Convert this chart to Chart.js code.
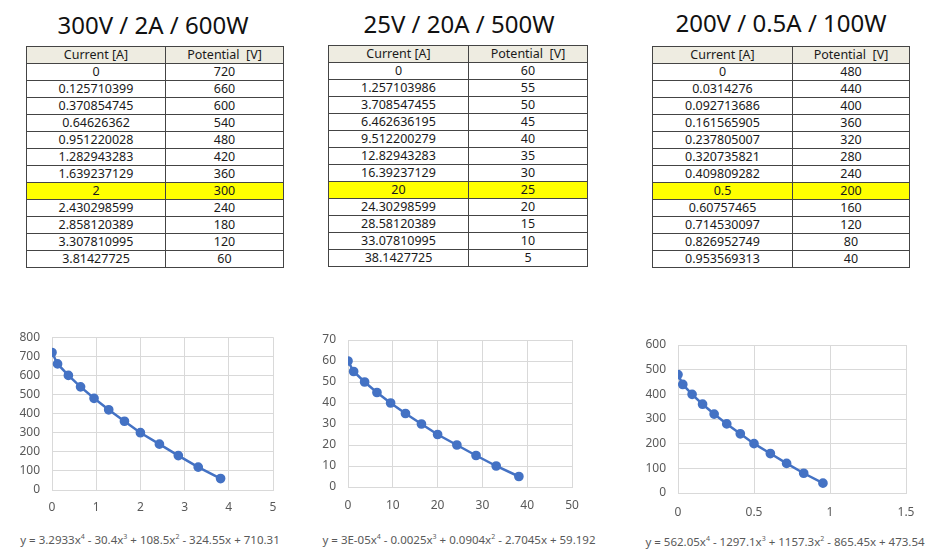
<!DOCTYPE html>
<html>
<head>
<meta charset="utf-8">
<script src="https://cdn.jsdelivr.net/npm/chart.js@4.4.1/dist/chart.umd.min.js"></script>
<style>
  body { margin:0; padding:0; background:#fff; font-family:"Noto Sans", "Open Sans", sans-serif; }
  .title { position:absolute; font-size:24px; color:#111; white-space:nowrap; line-height:24px; text-align:center; }
  table.dt { position:absolute; border-collapse:collapse; font-size:12.5px; color:#1a1a1a; }
  table.dt td, table.dt th { border:1px solid #444; padding:0; height:16px; line-height:16px; text-align:center; font-weight:normal; white-space:nowrap; }
  table.dt th { background:#eeece1; }
  table.dt tr.hl td { background:#ffff00; }
  .eq { position:absolute; font-size:11.5px; color:#595959; white-space:nowrap; line-height:14px; text-align:center; }
  .eq sup { font-size:7px; vertical-align:5px; line-height:0; }
  .cv { position:absolute; z-index:10; }
</style>
</head>
<body>
<script>
// ---- Data ----
const titles = ["300V / 2A / 600W", "25V / 20A / 500W", "200V / 0.5A / 100W"];
const headers = ["Current [A]", "Potential  [V]"];
const currents1 = [0, 0.125710399, 0.370854745, 0.64626362, 0.951220028, 1.282943283, 1.639237129, 2, 2.430298599, 2.858120389, 3.307810995, 3.81427725];
const potentials1 = [720, 660, 600, 540, 480, 420, 360, 300, 240, 180, 120, 60];
const currents2 = [0, 1.257103986, 3.708547455, 6.462636195, 9.512200279, 12.82943283, 16.39237129, 20, 24.30298599, 28.58120389, 33.07810995, 38.1427725];
const potentials2 = [60, 55, 50, 45, 40, 35, 30, 25, 20, 15, 10, 5];
const currents3 = [0, 0.0314276, 0.092713686, 0.161565905, 0.237805007, 0.320735821, 0.409809282, 0.5, 0.60757465, 0.714530097, 0.826952749, 0.953569313];
const potentials3 = [480, 440, 400, 360, 320, 280, 240, 200, 160, 120, 80, 40];
const highlightIndex = 7;
const equations = [
  'y = 3.2933x<sup>4</sup> - 30.4x<sup>3</sup> + 108.5x<sup>2</sup> - 324.55x + 710.31',
  'y = 3E-05x<sup>4</sup> - 0.0025x<sup>3</sup> + 0.0904x<sup>2</sup> - 2.7045x + 59.192',
  'y = 562.05x<sup>4</sup> - 1297.1x<sup>3</sup> + 1157.3x<sup>2</sup> - 865.45x + 473.54'
];
const xAxis1 = {min:0, max:5, step:1};
const yAxis1 = {min:0, max:800, step:100};
const xAxis2 = {min:0, max:50, step:10};
const yAxis2 = {min:0, max:70, step:10};
const xAxis3 = {min:0, max:1.5, step:0.5};
const yAxis3 = {min:0, max:600, step:100};

function addEl(tag, cls, style, html) {
  const el = document.createElement(tag);
  if (cls) el.className = cls;
  Object.assign(el.style, style);
  if (html !== undefined) el.innerHTML = html;
  document.body.appendChild(el);
  return el;
}

// ---- Charts (created first) ----
const lineBlue = '#4472c4';
const gridGray = '#d9d9d9';
const tickGray = '#595959';
const tickFontSpec = {family:'"Noto Sans", sans-serif', size:12};
function makeChart(left, top, w, h, cur, pot, xa, ya, geo) {
  const d = addEl('div', 'cv', {left:left+'px', top:top+'px', width:w+'px', height:h+'px'});
  const c = document.createElement('canvas');
  c.width = w; c.height = h;
  d.appendChild(c);
  const pts = cur.map((v, i) => ({x:v, y:pot[i]}));
  new Chart(c, {
    type:'scatter',
    data:{ datasets:[{ data:pts, showLine:true, borderColor:lineBlue, backgroundColor:lineBlue, borderWidth:2.5, pointRadius:3.6, pointHoverRadius:3.6, tension:0 }] },
    options:{
      responsive:false, animation:false, events:[],
      plugins:{ legend:{display:false}, tooltip:{enabled:false} },
      layout:{ padding:{ top:geo.top, right:geo.right, left:0, bottom:0 } },
      scales:{
        x:{ type:'linear', min:xa.min, max:xa.max,
            ticks:{ stepSize:xa.step, autoSkip:false, color:tickGray, font:tickFontSpec, padding:geo.xpad, callback:v=>String(v), maxRotation:0 },
            grid:{ color:gridGray, drawTicks:false, lineWidth:1 },
            border:{ display:true, color:gridGray },
            afterFit:s=>{ s.height = geo.xh; } },
        y:{ type:'linear', min:ya.min, max:ya.max,
            ticks:{ stepSize:ya.step, autoSkip:false, color:tickGray, font:tickFontSpec, padding:12, callback:v=>String(v) },
            grid:{ color:gridGray, drawTicks:false, lineWidth:1 },
            border:{ display:true, color:gridGray },
            afterFit:s=>{ s.width = geo.yw; } }
      }
    }
  });
}
makeChart(0, 318, 300, 202, currents1, potentials1, xAxis1, yAxis1, {top:17, right:27, yw:52, xh:30, xpad:10});
makeChart(300, 318, 300, 202, currents2, potentials2, xAxis2, yAxis2, {top:22, right:28, yw:48, xh:33, xpad:11});
makeChart(620, 318, 325, 202, currents3, potentials3, xAxis3, yAxis3, {top:27, right:39, yw:58, xh:27, xpad:12});

// ---- Titles, tables, equations ----
function buildTable(left, top, cur, pot, colW) {
  let html = '<tr><th style="width:' + colW[0] + 'px">' + headers[0] + '</th><th style="width:' + colW[1] + 'px">' + headers[1].replace(/ /g,'&nbsp;') + '</th></tr>';
  cur.forEach((c, i) => {
    html += '<tr' + (i === highlightIndex ? ' class="hl"' : '') + '><td>' + String(c) + '</td><td>' + String(pot[i]) + '</td></tr>';
  });
  addEl('table', 'dt', {left:left+'px', top:top+'px'}, html);
}
addEl('div', 'title', {left:'33px', width:'240px', top:'13px'}).textContent = titles[0];
addEl('div', 'title', {left:'339px', width:'240px', top:'12px'}).textContent = titles[1];
addEl('div', 'title', {left:'651px', width:'260px', top:'11px'}).textContent = titles[2];
buildTable(26, 46, currents1, potentials1, [138, 117]);
buildTable(328, 45, currents2, potentials2, [139, 118]);
buildTable(652, 46, currents3, potentials3, [139, 116]);
addEl('div', 'eq', {left:'0px', width:'300px', top:'533px'}, equations[0]);
addEl('div', 'eq', {left:'309px', width:'300px', top:'533px'}, equations[1]);
addEl('div', 'eq', {left:'625px', width:'320px', top:'535px'}, equations[2]);
</script>
</body>
</html>
